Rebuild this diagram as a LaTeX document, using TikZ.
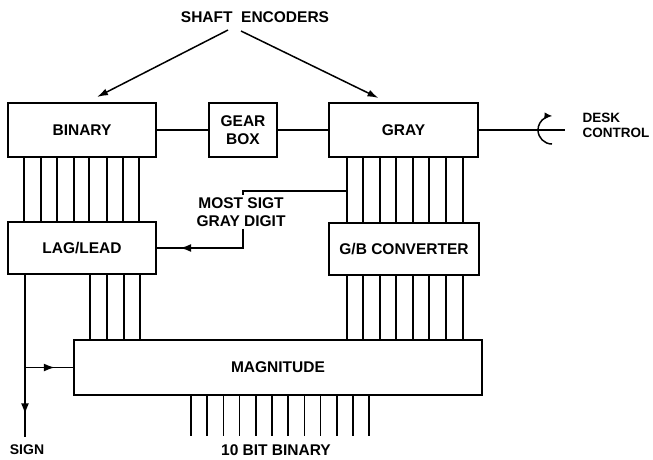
\documentclass[tikz,border=0pt]{standalone}
\usepackage{fontspec}
\setmainfont{Liberation Sans}
\usetikzlibrary{arrows.meta,decorations.markings}

\begin{document}
\begin{tikzpicture}[x=1pt,y=-1pt,
    every node/.style={font=\bfseries\fontsize{15.5}{18}\selectfont},
    blk/.style={draw,line width=2pt,inner sep=0pt,align=center},
    bus/.style={line width=1.5pt},
    arr/.style={line width=1.5pt,-{Latex[length=11pt,width=7pt]}},
    midarr/.style={postaction={decorate,decoration={markings,
        mark=at position #1 with {\arrow{Latex[length=11pt,width=8pt]}}}}}]
  \useasboundingbox (0,0) rectangle (653,459);
  % blocks
  \node (shaft) at (255,17) {SHAFT\ \ ENCODERS};
  \node[blk,minimum width=148pt,minimum height=54pt] (binary) at (82,130) {BINARY};
  \node[blk,minimum width=68pt,minimum height=54pt] (gear) at (243,130) {GEAR\\BOX};
  \node[blk,minimum width=149pt,minimum height=54pt] (gray) at (403.5,130) {GRAY};
  \node[blk,minimum width=148pt,minimum height=52pt] (lag) at (82,248) {LAG/LEAD};
  \node[blk,minimum width=150pt,minimum height=52pt] (gb) at (404,249) {G/B CONVERTER};
  \node[blk,minimum width=408pt,minimum height=55pt] (mag) at (278,367.5) {MAGNITUDE};
  \node[anchor=west,align=left,font=\bfseries\fontsize{13.5}{15}\selectfont] (desk) at (579,125) {DESK\\CONTROL};
  \node[align=center,inner sep=2pt] (msd) at (241,212) {MOST SIGT\\GRAY DIGIT};
  \node[font=\bfseries\fontsize{14}{17}\selectfont] (sign) at (27,450) {SIGN};
  \node (tenbit) at (276,450) {10 BIT BINARY};
  % shaft drives
  \coordinate (s1) at (228,30);
  \coordinate (s2) at (241,31);
  \draw[arr] (s1) -- ([xshift=15pt,yshift=5pt]binary.north);
  \draw[arr] (s2) -- ([xshift=-25pt,yshift=4pt]gray.north);
  \draw[bus] (binary.east) -- (gear.west);
  \draw[bus] (gear.east) -- (gray.west);
  \coordinate (deskend) at (565,130);
  \draw[bus] (gray.east) -- (deskend);
  \draw[bus,-{Latex[length=8pt,width=7pt]}] (552,144) arc[start angle=90,end angle=272,radius=14];
  % parallel buses
  \foreach \x in {24,41,57,74,89,107,123,139}
    \draw[bus] (\x,0 |- binary.south) -- (\x,0 |- lag.north);
  \foreach \x in {90,107,124,140}
    \draw[bus] (\x,0 |- lag.south) -- (\x,0 |- mag.north);
  \foreach \x in {347,363,380,396,413,429,446,463}{
    \draw[bus] (\x,0 |- gray.south) -- (\x,0 |- gb.north);
    \draw[bus] (\x,0 |- gb.south) -- (\x,0 |- mag.north);
  }
  \foreach \i [evaluate=\i as \x using 191+16.2*\i] in {0,...,11}
    \draw[bus] (\x,0 |- mag.south) -- ++(0,40);
  % most significant gray digit
  \coordinate (msdtap) at (347,191);
  \draw[bus] (msdtap) -| ([xshift=2pt]msd.north);
  \draw[bus,midarr=0.78] ([xshift=2pt]msd.south) |- (lag.east);
  % sign
  \coordinate (signend) at (25,437);
  \draw[bus,midarr=0.86] (lag.south -| signend) -- (signend);
  \draw[bus,midarr=0.62] (signend |- mag.west) -- (mag.west);
\end{tikzpicture}
\end{document}
